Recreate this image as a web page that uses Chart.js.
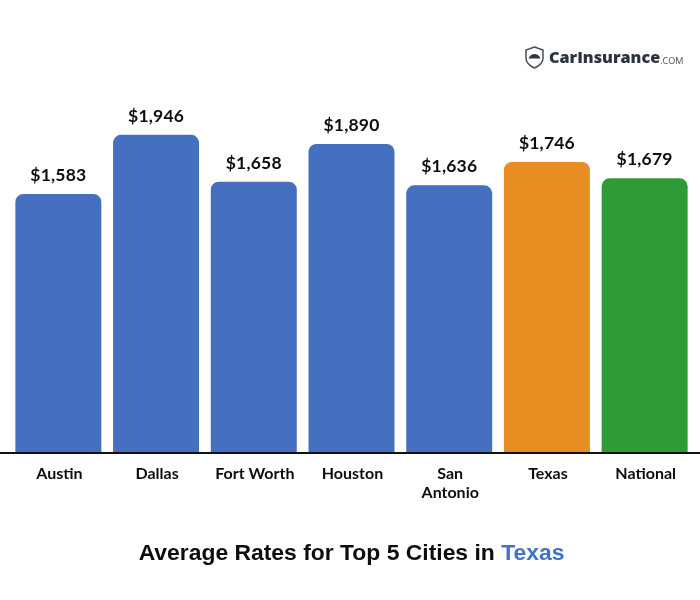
<!DOCTYPE html>
<html lang="en">
<head>
  <meta charset="UTF-8">
  <title>Average Rates for Top 5 Cities in Texas</title>
  <script src="https://cdn.jsdelivr.net/npm/chart.js"></script>
  <style>
    html, body { margin: 0; padding: 0; background: #fff; }
    #wrap { position: relative; width: 700px; height: 600px; overflow: hidden; }
    #title {
      position: absolute; left: 0; top: 539px; width: 703px; text-align: center;
      font: bold 22.9px "Liberation Sans", sans-serif; color: #0d0d0d;
    }
    #title span { color: #4472c4; }
    #logo { position: absolute; left: 525px; top: 46px; height: 23px; display: flex; align-items: center; }
    #logo b { font: 800 16.2px "Open Sans", sans-serif; color: #2b3340; margin: 0 0 1px 5px; }
    #logo small { font: 400 9px "Open Sans", sans-serif; color: #4a505a; margin-top: 5px; }
  </style>
</head>
<body>
  <div id="wrap">
    <canvas id="chart" width="700" height="600"></canvas>
    <div id="logo">
      <svg width="19" height="23" viewBox="0 0 19 23">
        <path d="M9.5 1 L18 4 V12 C18 17 14 20 9.5 22 C5 20 1 17 1 12 V4 Z" fill="#fff" stroke="#4a4f57" stroke-width="1.5"/>
        <path d="M3.5 12.5 C5 9 7 8 9.5 8 C12 8 14 9 15.5 12.5 Z" fill="#30363f"/>
      </svg>
      <b>CarInsurance</b><small>.COM</small>
    </div>
    <div id="title">Average Rates for Top 5 Cities in <span>Texas</span></div>
  </div>
  <script>
    const cities = ['Austin', 'Dallas', 'Fort Worth', 'Houston', ['San', 'Antonio'], 'Texas', 'National'];
    // 棒の高さは画像から読んだ値（Texasの棒はラベルより少し高い）
    const barHeights = [1583, 1946, 1658, 1890, 1636, 1779, 1679];
    const rateLabels = ['$1,583', '$1,946', '$1,658', '$1,890', '$1,636', '$1,746', '$1,679'];
    const barColors = ['#4470bf', '#4470bf', '#4470bf', '#4470bf', '#4470bf', '#e88d21', '#2e9b37'];

    // 金額ラベル
    const valueLabels = {
      id: 'valueLabels',
      afterDatasetsDraw(chart) {
        const c = chart.ctx;
        c.save();
        c.font = 'bold 17.5px Lato';
        c.letterSpacing = '0.2px';
        c.fillStyle = '#0d0d0d';
        c.textAlign = 'center';
        c.textBaseline = 'alphabetic';
        chart.getDatasetMeta(0).data.forEach((bar, i) => {
          c.fillText(rateLabels[i], bar.x, bar.y - 13);
        });
        c.restore();
      }
    };

    // 横軸の線はキャンバスの端から端まで
    const baseline = {
      id: 'baseline',
      afterDatasetsDraw(chart) {
        const c = chart.ctx;
        const y = chart.scales.y.getPixelForValue(0);
        c.save();
        c.strokeStyle = '#111';
        c.lineWidth = 2;
        c.beginPath();
        c.moveTo(0, y + 1);
        c.lineTo(chart.width, y + 1);
        c.stroke();
        c.restore();
      }
    };

    new Chart(document.getElementById('chart').getContext('2d'), {
      type: 'bar',
      data: {
        labels: cities,
        datasets: [{
          data: barHeights,
          backgroundColor: barColors,
          borderRadius: { topLeft: 8, topRight: 8 },
          borderSkipped: 'bottom',
          barPercentage: 0.88,
          categoryPercentage: 1
        }]
      },
      options: {
        responsive: false,
        animation: false,
        layout: { padding: { left: 9.5, right: 6.5, top: 126 } },
        plugins: { legend: { display: false }, tooltip: { enabled: false } },
        scales: {
          x: {
            grid: { display: false },
            border: { display: false },
            afterFit(scale) { scale.height = 148; },
            ticks: {
              color: '#0d0d0d',
              font: { family: 'Lato', size: 16, weight: 'bold', lineHeight: 1.15 },
              padding: 5,
              labelOffset: 1,
              maxRotation: 0,
              autoSkip: false
            }
          },
          y: { display: false, min: 0, max: 2000 }
        }
      },
      plugins: [valueLabels, baseline]
    });
  </script>
</body>
</html>
